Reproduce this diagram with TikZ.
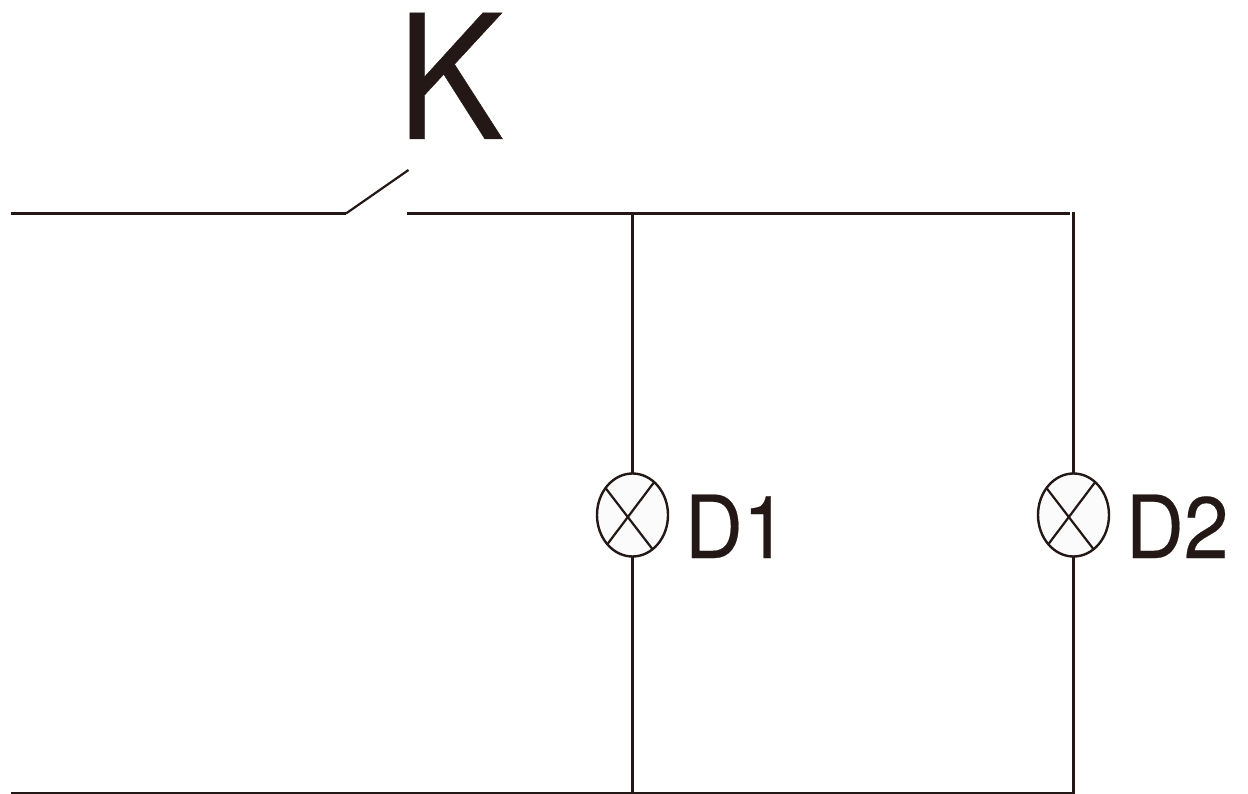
\documentclass[tikz,border=0pt]{standalone}
\usepackage{fontspec}
\newfontfamily\labelfont[FakeStretch=0.925,FakeBold=0.25]{TeX Gyre Heros}
\usetikzlibrary{shapes.geometric}
\definecolor{ink}{HTML}{231815}
\tikzset{
  wire/.style={draw=ink,line width=2.2pt},
  hwire/.style={draw=ink,line width=2.6pt},
  lamp/.style={ellipse,draw=ink,line width=2.4pt,fill=black!1.5,minimum width=71pt,minimum height=83pt,inner sep=0pt,outer sep=0pt},
  bigtext/.style={text=ink,font=\labelfont\fontsize{173}{173}\selectfont,inner sep=0pt,anchor=base west},
  lamptext/.style={text=ink,font=\labelfont\fontsize{87}{87}\selectfont,inner sep=0pt,anchor=base west}
}
\begin{document}
\begin{tikzpicture}[x=1pt,y=-1pt]
\useasboundingbox (0,0) rectangle (1248,794);
\node[bigtext] (K) at (397,139) {K};
\node[lamp] (L1) at (632.5,515) {};
\node[lamp] (L2) at (1073.5,515) {};
\node[lamptext] (D1) at (684.5,558) {D1};
\node[lamptext] (D2) at (1125.5,558) {D2};
\coordinate (swL) at (11,213.5);
\coordinate (swH) at (346,213.5);
\coordinate (swT) at (408.5,170);
\coordinate (tS) at (407,213.5);
\coordinate (tE) at (1070,213.5);
\coordinate (t1) at (632.5,213.5);
\coordinate (t2) at (1073.5,212);
\coordinate (bL) at (11,793.5);
\coordinate (b1) at (632.5,793.5);
\coordinate (b2) at (1073.5,794);
\coordinate (bE) at (1075,793.5);
\draw[hwire] (swL) -- (swH);
\draw[wire,line join=round] (swH) -- (swT);
\draw[hwire] (tS) -- (tE);
\draw[wire] (t1) -- (L1.north);
\draw[wire] (L1.south) -- (b1);
\draw[wire] (t2) -- (L2.north);
\draw[wire] (L2.south) -- (b2);
\draw[hwire] (bL) -- (bE);
\foreach \n in {L1,L2}{
  \draw[wire] ([shift={(-27,-27)}]\n.center) -- ([shift={(19.5,33.5)}]\n.center);
  \draw[wire] ([shift={(21,-32)}]\n.center) -- ([shift={(-25,29)}]\n.center);
}
\end{tikzpicture}
\end{document}
